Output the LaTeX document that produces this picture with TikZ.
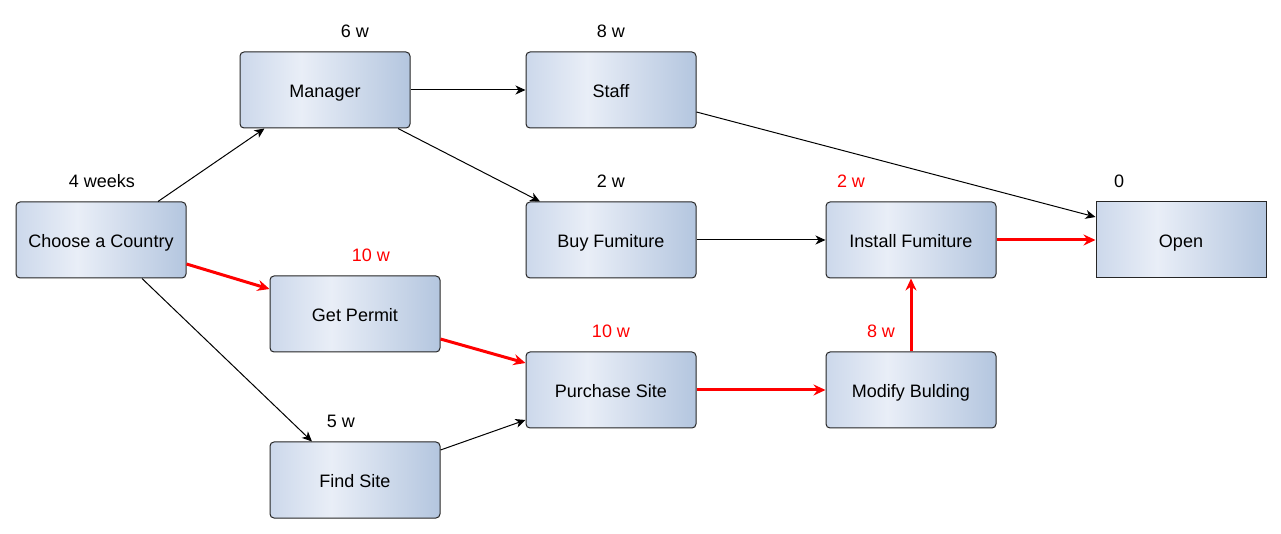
\documentclass[tikz,border=0pt]{standalone}
\usepackage{fontspec}
\setmainfont{Liberation Sans}
\usepackage{xcolor}
\usetikzlibrary{arrows.meta,calc}
\definecolor{boxl}{HTML}{CCD8EB}
\definecolor{boxm}{HTML}{E9EEF7}
\definecolor{boxr}{HTML}{B4C6DF}
\pgfdeclarehorizontalshading{taskfill}{100bp}{color(0bp)=(boxl); color(25bp)=(boxl); color(43bp)=(boxm); color(75bp)=(boxr); color(100bp)=(boxr)}

\begin{document}
\begin{tikzpicture}[x=0.5pt, y=-0.5pt, every node/.style={font=\fontsize{9}{11}\selectfont}, task/.style={draw=black!85, line width=0.5pt, rounded corners=2pt, minimum width=85pt, minimum height=38pt, shading=taskfill, text height=0.72em, text depth=0pt}, dur/.style={text=black}, crit/.style={text=red}, arr/.style={-{Stealth[length=5pt, width=4.5pt, inset=1.5pt]}, line width=0.5pt}, carr/.style={-{Stealth[length=6pt, width=5.5pt, inset=2pt]}, line width=1.5pt, red}]
  \useasboundingbox (0,0) rectangle (1281,534);
  \node[task](choose) at (101,240){Choose a Country};
  \node[task](manager) at (325,90){Manager};
  \node[task](staff) at (611,90){Staff};
  \node[task](buy) at (611,240){Buy Fumiture};
  \node[task](install) at (911,240){Install Fumiture};
  \node[task, rounded corners=0pt](open) at (1181,240){Open};
  \node[task](permit) at (355,314){Get Permit};
  \node[task](purchase) at (611,390){Purchase Site};
  \node[task](modify) at (911,390){Modify Bulding};
  \node[task](find) at (355,480){Find Site};
  \node[dur](tchoose) at (102,181){4 weeks};
  \node[dur](tmanager) at (355,31){6 w};
  \node[dur](tstaff) at (611,31){8 w};
  \node[dur](tbuy) at (611,181){2 w};
  \node[crit](tinstall) at (851,181){2 w};
  \node[dur](topen) at (1119,181){0};
  \node[crit](tpermit) at (371,255){10 w};
  \node[crit](tpurchase) at (611,331){10 w};
  \node[crit](tmodify) at (881,331){8 w};
  \node[dur](tfind) at (341,421){5 w};
  \draw[arr] ($(choose.north)+(57,0)$) -- ($(manager.south west)+(25,0)$);
  \draw[carr] ($(choose.east)+(0,24)$) -- ($(permit.west)+(0,-25)$);
  \draw[arr] ($(choose.south)+(41,0)$) -- ($(find.north)+(-43,0)$);
  \draw[arr] (manager.east) -- (staff.west);
  \draw[arr] ($(manager.south)+(73,0)$) -- ($(buy.north)+(-71,0)$);
  \draw[arr] ($(staff.east)+(0,22)$) -- ($(open.west)+(0,-23)$);
  \draw[arr] (buy.east) -- (install.west);
  \draw[carr] ($(permit.east)+(0,25)$) -- ($(purchase.west)+(0,-27)$);
  \draw[arr] ($(find.east)+(0,-30)$) -- ($(purchase.west)+(0,30)$);
  \draw[carr] (purchase.east) -- (modify.west);
  \draw[carr] (modify.north) -- (install.south);
  \draw[carr] (install.east) -- (open.west);
\end{tikzpicture}
\end{document}
